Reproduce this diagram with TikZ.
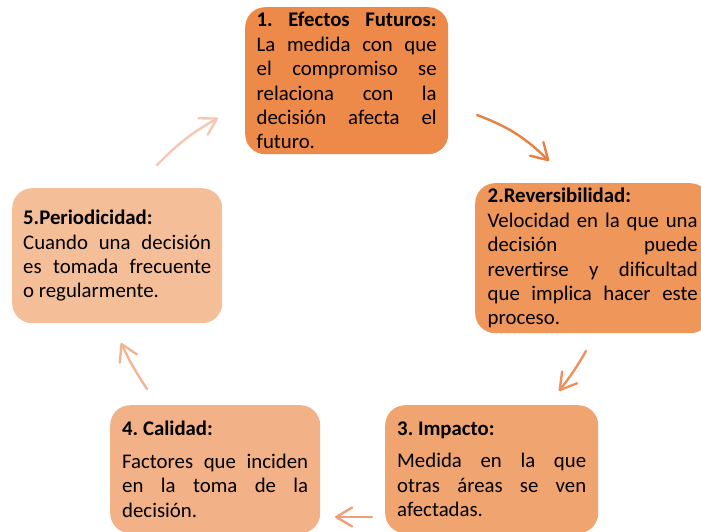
\documentclass[tikz,border=0pt]{standalone}
\usepackage{fontspec}
\setmainfont{Carlito}
\usepackage{tikz}
\usetikzlibrary{arrows.meta}

\definecolor{naranjaA}{RGB}{237,138,73}
\definecolor{naranjaB}{RGB}{239,150,90}
\definecolor{naranjaC}{RGB}{240,164,112}
\definecolor{naranjaD}{RGB}{242,177,134}
\definecolor{naranjaE}{RGB}{244,190,153}
\definecolor{flechaA}{RGB}{232,128,68}
\definecolor{flechaB}{RGB}{238,145,90}
\definecolor{flechaC}{RGB}{240,160,120}
\definecolor{flechaD}{RGB}{243,180,148}
\definecolor{flechaE}{RGB}{246,200,178}

\newcommand\ajustepaso{\frenchspacing\setlength\parindent{0pt}\tolerance 9999 \hbadness 10000 }

\begin{document}
\begin{tikzpicture}[x=1pt, y=-1pt,
  paso/.style={rounded corners=20pt, anchor=north west, inner ysep=0pt, align=justify,
    font=\fontsize{20.8}{24.4}\selectfont, execute at begin node=\ajustepaso},
  flecha/.style={line width=2.4pt, line cap=round, -{Straight Barb[length=16pt,width=19pt,round]}}]
  \useasboundingbox (0,0) rectangle (701,532);

  \node[paso, fill=naranjaA, minimum width=203pt, minimum height=147pt, text width=180pt, inner xsep=11.5pt]
        (p1) at (245,7)   {\textbf{1. Efectos Futuros:}\linebreak La medida con que\linebreak el compromiso se\linebreak relaciona con la\linebreak decisión afecta el\linebreak futuro.};
  \node[paso, fill=naranjaB, minimum width=235pt, minimum height=150pt, text width=210pt, inner xsep=12.5pt]
        (p2) at (475,183) {\textbf{2.Reversibilidad:}\\ Velocidad en la que una\linebreak decisión puede\linebreak revertirse y dificultad\linebreak que implica hacer este\linebreak proceso.};
  \node[paso, fill=naranjaC, minimum width=213pt, minimum height=128pt, text width=189pt, inner xsep=12pt]
        (p3) at (385,405) {\textbf{3. Impacto:}\par\vspace{8.5pt} Medida en la que\linebreak otras áreas se ven\linebreak afectadas.};
  \node[paso, fill=naranjaD, minimum width=210pt, minimum height=128pt, text width=186pt, inner xsep=12pt]
        (p4) at (110,405) {\textbf{4. Calidad:}\par\vspace{8.5pt} Factores que inciden\linebreak en la toma de la\linebreak decisión.};
  \node[paso, fill=naranjaE, minimum width=210pt, minimum height=135pt, text width=188pt, inner xsep=11pt]
        (p5) at (12,188)  {\textbf{5.Periodicidad:}\\ Cuando una decisión\linebreak es tomada frecuente\linebreak o regularmente.};

  % extremos de las flechas
  \coordinate (s12) at (477,115);  \coordinate (e12) at (549,161);
  \coordinate (s23) at (586,351);  \coordinate (e23) at (559,391);
  \coordinate (s34) at (372,517);  \coordinate (e34) at (335,517);
  \coordinate (s45) at (147,389);  \coordinate (e45) at (121,343);
  \coordinate (s51) at (157,165);  \coordinate (e51) at (218,118);

  \draw[flecha, flechaA] (s12) to[bend left=12] (e12);
  \draw[flecha, flechaB] (s23) to[bend left=4]  (e23);
  \draw[flecha, flechaC] (s34) -- (e34);
  \draw[flecha, flechaD] (s45) to[bend left=4]  (e45);
  \draw[flecha, flechaE] (s51) to[bend left=8]  (e51);

\end{tikzpicture}
\end{document}
